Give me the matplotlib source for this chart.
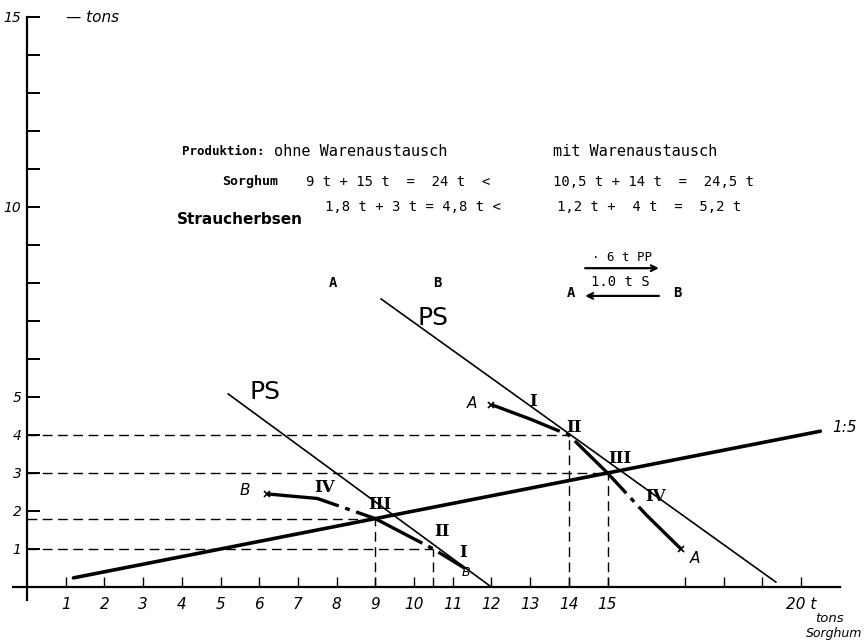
import matplotlib.pyplot as plt
import numpy as np

# production possibility lines (thin)
ps_b_x = [5.2, 12.0]
ps_b_y = [5.08, 0.0]
ps_a_x = [9.15, 19.35]
ps_a_y = [7.58, 0.13]

# consumption ratio line 1:5 (thick)
ratio_x = [1.2, 20.5]
ratio_y = [0.24, 4.1]

# transformation curves (dash-dot)
curve_a_x = [12.0, 13.0, 14.0, 15.0, 16.0, 16.9]
curve_a_y = [4.8, 4.42, 4.0, 3.0, 1.9, 1.0]
curve_b_x = [6.2, 7.5, 9.0, 10.5, 11.3]
curve_b_y = [2.45, 2.33, 1.8, 1.0, 0.5]

# reference points (dashed guides)
guide_x = [9.0, 10.5, 14.0, 15.0]
guide_y = [1.8, 1.0, 4.0, 3.0]

x_ticks = [1, 2, 3, 4, 5, 6, 7, 8, 9, 10, 11, 12, 13, 14, 15, 17, 18, 19, 20]
x_labels = ['1', '2', '3', '4', '5', '6', '7', '8', '9', '10', '11', '12', '13', '14', '15', '', '', '', '20 t']
y_ticks = list(range(1, 16))
y_labels = {1: '1', 2: '2', 3: '3', 4: '4', 5: '5', 10: '10', 15: '15'}

fig = plt.figure(figsize=(8.67, 6.41), dpi=100)
ax = fig.add_axes([27 / 867, 54 / 641, 21.7 * 38.7 / 867, 15.2 * 38 / 641])
ax.set_xlim(0, 21.7)
ax.set_ylim(0, 15.2)
for s in ax.spines.values():
    s.set_visible(False)

# axes drawn by hand, they overshoot a bit like in the drawing
ax.plot([-0.35, 21.0], [0, 0], color='black', lw=1.6, clip_on=False)
ax.plot([0, 0], [-0.35, 15.0], color='black', lw=1.6, clip_on=False)

ax.set_xticks(x_ticks)
ax.set_xticklabels(x_labels, fontstyle='italic', fontsize=11)
ax.set_yticks(y_ticks)
ax.set_yticklabels([y_labels.get(t, '') for t in y_ticks], fontstyle='italic', fontsize=10)
ax.tick_params(axis='x', direction='in', length=7, width=1, pad=7)
ax.tick_params(axis='y', direction='in', length=9, width=1.4, pad=4)

ax.text(1.0, 15.0, '— tons', fontstyle='italic', fontsize=11, va='center', ha='left')
fig.text(815 / 867, 1 - 618 / 641, 'tons', fontstyle='italic', fontsize=9.5, ha='left', va='center')
fig.text(806 / 867, 1 - 640 / 641, 'Sorghum', fontstyle='italic', fontsize=9, ha='left', va='bottom')

# dashed guides
dash = (0, (7, 4))
for gx, gy in zip(guide_x, guide_y):
    ax.plot([0, gx], [gy, gy], color='black', lw=1, linestyle=dash)
    ax.plot([gx, gx], [0, gy], color='black', lw=1, linestyle=dash)

# lines
ax.plot(ps_b_x, ps_b_y, color='black', lw=1.2)
ax.plot(ps_a_x, ps_a_y, color='black', lw=1.2)
ax.plot(ratio_x, ratio_y, color='black', lw=2.6, solid_capstyle='round')
dashdot = (0, (22, 2, 1.5, 2))
ax.plot(curve_a_x, curve_a_y, color='black', lw=2.4, linestyle=dashdot)
ax.plot(curve_b_x, curve_b_y, color='black', lw=2.4, linestyle=dashdot)
ax.plot([curve_a_x[0], curve_a_x[-1], curve_b_x[0]], [curve_a_y[0], curve_a_y[-1], curve_b_y[0]],
        'x', color='black', ms=4, mew=1.2)

# labels on the curves
ax.text(10.5, 7.08, 'PS', fontsize=18, ha='center', va='center')
ax.text(6.15, 5.13, 'PS', fontsize=18, ha='center', va='center')
ax.text(20.8, 4.2, '1:5', fontstyle='italic', fontsize=11, ha='left', va='center')
ax.text(11.5, 4.82, 'A', fontstyle='italic', fontsize=11, ha='center', va='center')
ax.text(17.25, 0.75, 'A', fontstyle='italic', fontsize=11, ha='center', va='center')
ax.text(5.63, 2.53, 'B', fontstyle='italic', fontsize=11, ha='center', va='center')
ax.text(11.35, 0.38, 'B', fontstyle='italic', fontsize=9, ha='center', va='center')

roman = dict(fontfamily='DejaVu Serif', fontsize=12, fontweight='bold', ha='center', va='center')
ax.text(13.07, 4.89, 'I', **roman)
ax.text(14.13, 4.21, 'II', **roman)
ax.text(15.32, 3.39, 'III', **roman)
ax.text(16.23, 2.37, 'IV', **roman)
ax.text(7.7, 2.63, 'IV', **roman)
ax.text(9.12, 2.16, 'III', **roman)
ax.text(10.72, 1.45, 'II', **roman)
ax.text(11.27, 0.92, 'I', **roman)

# table of production
head = dict(fontfamily='DejaVu Sans Mono', fontsize=11, va='center', ha='left')
mono = dict(fontfamily='DejaVu Sans Mono', fontsize=10, va='center', ha='left')
ax.text(4.0, 11.45, 'Produktion:', fontfamily='DejaVu Sans Mono', fontsize=9, fontweight='bold',
        va='center', ha='left')
ax.text(6.38, 11.45, 'ohne Warenaustausch', **head)
ax.text(13.6, 11.45, 'mit Warenaustausch', **head)
ax.text(5.04, 10.66, 'Sorghum', fontfamily='DejaVu Sans Mono', fontsize=9.5, fontweight='bold',
        va='center', ha='left')
ax.text(7.2, 10.66, '9 t + 15 t  =  24 t  <', **mono)
ax.text(13.6, 10.66, '10,5 t + 14 t  =  24,5 t', **mono)
ax.text(7.7, 10.0, '1,8 t + 3 t = 4,8 t <', **mono)
ax.text(13.7, 10.0, '1,2 t +  4 t  =  5,2 t', **mono)
ax.text(3.88, 9.66, 'Straucherbsen', fontsize=11, fontweight='bold', va='center', ha='left')

# trade arrows
ax.text(7.9, 8.0, 'A', fontfamily='DejaVu Sans Mono', fontsize=10, fontweight='bold', ha='center', va='center')
ax.text(10.6, 8.0, 'B', fontfamily='DejaVu Sans Mono', fontsize=10, fontweight='bold', ha='center', va='center')
ax.annotate('', xy=(16.4, 8.39), xytext=(14.35, 8.39),
            arrowprops=dict(arrowstyle='->', color='black', lw=1.6))
ax.annotate('', xy=(14.35, 7.66), xytext=(16.4, 7.66),
            arrowprops=dict(arrowstyle='->', color='black', lw=1.6))
ax.text(15.37, 8.66, '· 6 t PP', fontfamily='DejaVu Sans Mono', fontsize=9, ha='center', va='center')
ax.text(15.32, 8.03, '1.0 t S', fontfamily='DejaVu Sans Mono', fontsize=10, ha='center', va='center')
ax.text(14.05, 7.74, 'A', fontfamily='DejaVu Sans Mono', fontsize=10, fontweight='bold', ha='center', va='center')
ax.text(16.8, 7.74, 'B', fontfamily='DejaVu Sans Mono', fontsize=10, fontweight='bold', ha='center', va='center')

fig.savefig('out.png', dpi=100)
